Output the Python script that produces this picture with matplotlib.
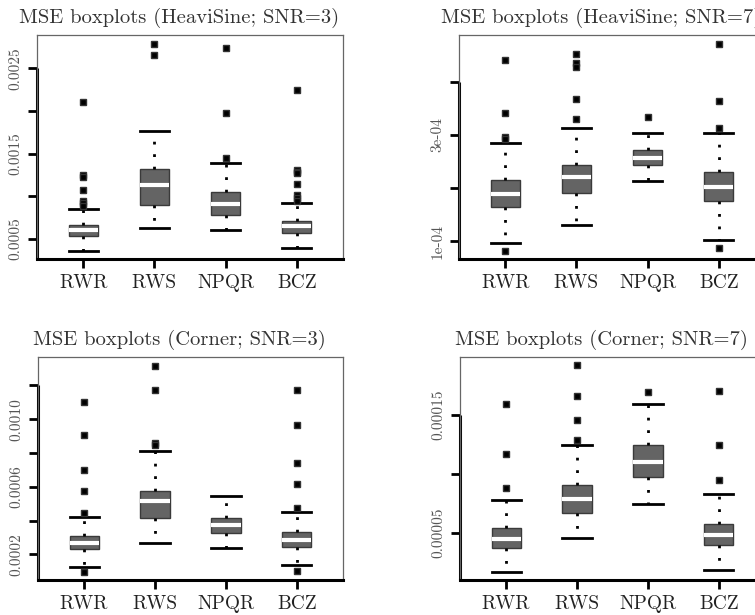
import matplotlib
matplotlib.use("Agg")
import matplotlib.pyplot as plt
import matplotlib.transforms as mtransforms

plt.rcParams["font.family"] = ["cmr10", "DejaVu Serif"]
plt.rcParams["axes.formatter.use_mathtext"] = True

methods = ["RWR", "RWS", "NPQR", "BCZ"]

# HeaviSine, SNR=3
hs3_med = [0.000610, 0.001136, 0.000906, 0.000649]
hs3_q1 = [0.000532, 0.000902, 0.000785, 0.000571]
hs3_q3 = [0.000668, 0.001320, 0.001050, 0.000715]
hs3_lo = [0.000357, 0.000633, 0.000602, 0.000392]
hs3_hi = [0.000855, 0.001771, 0.001385, 0.000922]
hs3_out = [
    [0.00211, 0.00125, 0.00123, 0.00107, 0.00095, 0.00092, 0.00089],
    [0.00278, 0.00265],
    [0.00274, 0.00198, 0.00145],
    [0.00225, 0.00131, 0.00129, 0.00127, 0.00115, 0.00102, 0.00098, 0.00094],
]
hs3_ticks = [0.0005, 0.0010, 0.0015, 0.0020, 0.0025]
hs3_labels = ["0.0005", "", "0.0015", "", "0.0025"]

# HeaviSine, SNR=7
hs7_med = [1.881e-4, 2.200e-4, 2.569e-4, 2.013e-4]
hs7_q1 = [1.644e-4, 1.900e-4, 2.431e-4, 1.756e-4]
hs7_q3 = [2.150e-4, 2.425e-4, 2.725e-4, 2.294e-4]
hs7_lo = [0.963e-4, 1.313e-4, 2.125e-4, 1.025e-4]
hs7_hi = [2.856e-4, 3.125e-4, 3.044e-4, 3.044e-4]
hs7_out = [
    [4.406e-4, 3.406e-4, 2.956e-4, 2.92e-4, 0.81e-4],
    [4.51e-4, 4.34e-4, 4.28e-4, 3.675e-4, 3.306e-4],
    [3.344e-4],
    [4.70e-4, 3.638e-4, 3.138e-4, 0.869e-4],
]
hs7_ticks = [1e-4, 2e-4, 3e-4, 4e-4]
hs7_labels = ["1e-04", "", "3e-04", ""]

# Corner, SNR=3
co3_med = [0.000265, 0.000515, 0.000373, 0.000285]
co3_q1 = [0.000230, 0.000413, 0.000326, 0.000245]
co3_q3 = [0.000310, 0.000576, 0.000415, 0.000334]
co3_lo = [0.000127, 0.000269, 0.000239, 0.000137]
co3_hi = [0.000420, 0.000812, 0.000546, 0.000452]
co3_out = [
    [0.001098, 0.000905, 0.000696, 0.000576, 0.000446, 0.0000937],
    [0.001316, 0.001174, 0.000856, 0.000848],
    [],
    [0.001170, 0.000964, 0.000743, 0.000615, 0.000472, 0.000100],
]
co3_ticks = [0.0002, 0.0004, 0.0006, 0.0008, 0.0010, 0.0012]
co3_labels = ["0.0002", "", "0.0006", "", "0.0010", ""]

# Corner, SNR=7
co7_med = [0.0000449, 0.0000784, 0.0001104, 0.0000483]
co7_q1 = [0.0000374, 0.0000671, 0.0000975, 0.0000396]
co7_q3 = [0.0000539, 0.0000907, 0.0001242, 0.0000573]
co7_lo = [0.0000171, 0.0000458, 0.0000744, 0.0000188]
co7_hi = [0.0000775, 0.0001247, 0.0001593, 0.0000829]
co7_out = [
    [0.000159, 0.0001169, 0.0000882],
    [0.0001916, 0.0001655, 0.0001458, 0.0001284],
    [0.0001688],
    [0.0001702, 0.0001247, 0.0000944],
]
co7_ticks = [0.00005, 0.00010, 0.00015]
co7_labels = ["0.00005", "", "0.00015"]


def draw_panel(ax, title, med, q1, q3, lo, hi, out, ylim, ticks, labels):
    stats = []
    for i in range(len(methods)):
        stats.append(dict(med=med[i], q1=q1[i], q3=q3[i],
                          whislo=lo[i], whishi=hi[i], fliers=out[i]))

    ax.bxp(
        stats,
        positions=[1, 2, 3, 4],
        widths=0.41,
        capwidths=0.41,
        patch_artist=True,
        boxprops=dict(facecolor="#646464", edgecolor="#3a3a3a", linewidth=1),
        medianprops=dict(color="white", linewidth=3),
        whiskerprops=dict(color="black", linestyle=(0, (1, 3.5)), linewidth=2),
        capprops=dict(color="black", linewidth=2),
        flierprops=dict(marker="s", markerfacecolor="black",
                        markeredgecolor="#333333", markersize=4.2,
                        linestyle="none"),
    )

    ax.set_xlim(0.35, 4.65)
    ax.set_ylim(*ylim)
    ax.set_xticks([1, 2, 3, 4])
    ax.set_xticklabels(methods)
    ax.set_yticks(ticks)
    ax.set_yticklabels(labels)

    # title sits a bit left of the box centre, as in the original
    ax.set_title(title, fontsize=14.8, color="#333333", pad=9, x=0.465)

    for side in ["top", "right", "left"]:
        ax.spines[side].set_color("#666666")
        ax.spines[side].set_linewidth(0.9)
    ax.spines["bottom"].set_color("black")
    ax.spines["bottom"].set_linewidth(2.2)

    # thick axis line on the left from the bottom to the highest tick
    trans = mtransforms.blended_transform_factory(ax.transAxes, ax.transData)
    ax.plot([0, 0], [ylim[0], ticks[-1]], color="black", linewidth=2.2,
            transform=trans, clip_on=False, solid_capstyle="butt")

    ax.tick_params(axis="x", direction="out", length=6.5, width=2,
                   labelsize=14, labelcolor="#222222", pad=4)
    ax.tick_params(axis="y", direction="out", length=6.5, width=2,
                   labelsize=11, labelcolor="#555555", pad=4)
    for lab in ax.get_yticklabels():
        lab.set_rotation(90)
        lab.set_va("center")


fig = plt.figure(figsize=(7.55, 6.15), dpi=100)

ax1 = fig.add_axes([37 / 755, 1 - 259 / 615, 306 / 755, 224 / 615])
ax2 = fig.add_axes([459 / 755, 1 - 259 / 615, 306 / 755, 224 / 615])
ax3 = fig.add_axes([38 / 755, 1 - 580 / 615, 305 / 755, 223 / 615])
ax4 = fig.add_axes([460 / 755, 1 - 580 / 615, 305 / 755, 223 / 615])

draw_panel(ax1, "MSE boxplots (HeaviSine; SNR=3)", hs3_med, hs3_q1, hs3_q3,
           hs3_lo, hs3_hi, hs3_out, (0.000266, 0.00289), hs3_ticks, hs3_labels)
draw_panel(ax2, "MSE boxplots (HeaviSine; SNR=7)", hs7_med, hs7_q1, hs7_q3,
           hs7_lo, hs7_hi, hs7_out, (0.669e-4, 4.875e-4), hs7_ticks, hs7_labels)
draw_panel(ax3, "MSE boxplots (Corner; SNR=3)", co3_med, co3_q1, co3_q3,
           co3_lo, co3_hi, co3_out, (0.0000484, 0.001367), co3_ticks, co3_labels)
draw_panel(ax4, "MSE boxplots (Corner; SNR=7)", co7_med, co7_q1, co7_q3,
           co7_lo, co7_hi, co7_out, (0.0000104, 0.0001986), co7_ticks, co7_labels)

fig.savefig("out.png", dpi=100)
plt.close(fig)
